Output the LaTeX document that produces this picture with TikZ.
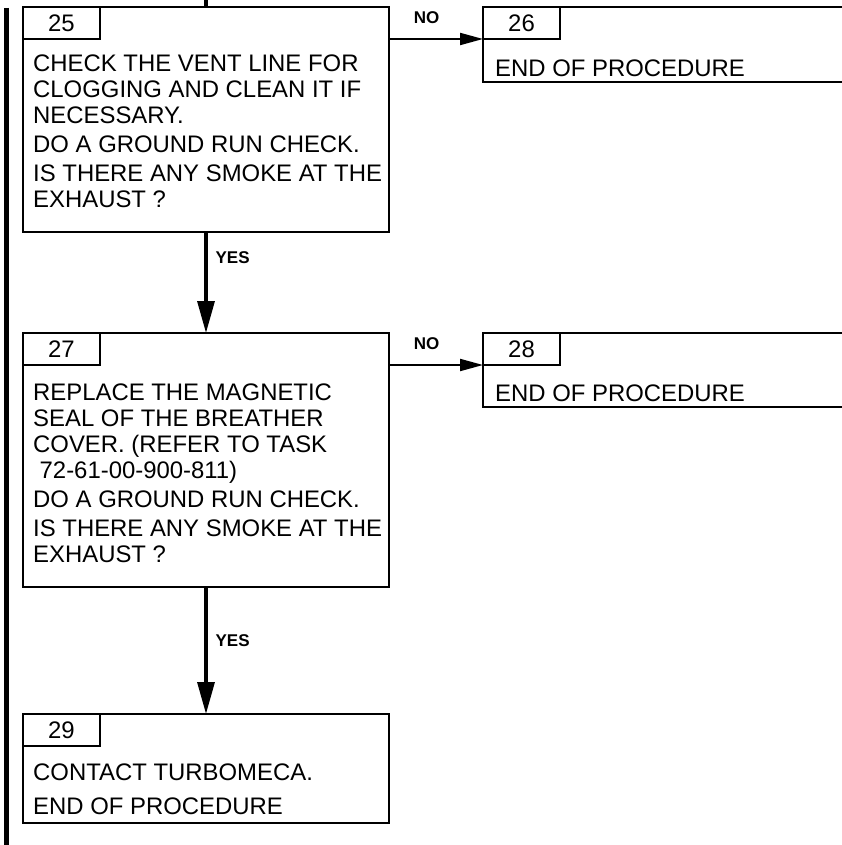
\documentclass[tikz,border=0pt]{standalone}
\usepackage{fontspec}
\setmainfont{Liberation Sans}
\usetikzlibrary{positioning, arrows.meta}

\newcommand{\stepfont}{\fontsize{23.9}{26}\selectfont}
\newcommand{\answerfont}{\fontsize{17}{20}\selectfont\bfseries}

\begin{document}
\begin{tikzpicture}[
		x=1pt, y=-1pt,
		stepbox/.style={draw, line width=2.2pt, inner sep=0pt, outer sep=0pt, anchor=north west},
		numtab/.style={draw, line width=1.8pt, inner sep=0pt, outer sep=0pt, anchor=north west, minimum width=77pt, minimum height=32pt, font=\stepfont},
		steptext/.style={align=left, inner sep=0pt, font=\stepfont},
		answer/.style={inner sep=0pt, font=\answerfont},
		yesarrow/.style={line width=3.3pt, -{Triangle[length=32pt, width=17pt]}},
		noarrow/.style={line width=2pt, -{Triangle[length=23pt, width=12pt]}}
		]
		% Page frame
		\useasboundingbox (0,0) rectangle (842,845);
		\clip (0,0) rectangle (842,845);
		% Change bar
		\draw[line width=4.5pt] (6.5,8) -- (6.5,845);
		% Step boxes with number tabs
		\foreach \n/\x/\y/\w/\h in {25/23/7/366/225, 26/483/7/400/75, 27/23/333/366/254, 28/483/333/400/74, 29/23/714/366/109} {
			\node[stepbox, minimum width=\w pt, minimum height=\h pt] (B\n) at (\x,\y) {};
			\node[numtab] (T\n) at (B\n.north west) {\n};
		}
		% Step texts
		\node[steptext, below right=15.5pt and 10pt of T25.south west] (S25) {CHECK THE VENT LINE FOR\\CLOGGING AND CLEAN IT IF\\NECESSARY.\\[3pt]DO A GROUND RUN CHECK.\\[3pt]IS THERE ANY SMOKE AT THE\\EXHAUST ?};
		\node[steptext, below right=20.6pt and 12pt of T26.south west] (S26) {END OF PROCEDURE};
		\node[steptext, below right=19pt and 10pt of T27.south west] (S27) {REPLACE THE MAGNETIC\\SEAL OF THE BREATHER\\COVER. (REFER TO TASK\\\hspace*{6.5pt}72-61-00-900-811)\\[2.5pt]DO A GROUND RUN CHECK.\\[3pt]IS THERE ANY SMOKE AT THE\\EXHAUST ?};
		\node[steptext, below right=19.6pt and 12pt of T28.south west] (S28) {END OF PROCEDURE};
		\node[steptext, below right=17.6pt and 10pt of T29.south west] (S29) {CONTACT TURBOMECA.\\[8pt]END OF PROCEDURE};
		% Connectors
		\coordinate (in25) at (206,0);
		\draw[line width=3.3pt] (in25) -- (B25.north);
		\draw[noarrow] (B25.east |- T26.south west) -- (T26.south west) node[answer, pos=0.4, above=14pt] (no25) {NO};
		\draw[yesarrow] (B25.south) -- (B27.north) node[answer, pos=0.25, right=8pt] (yes25) {YES};
		\draw[noarrow] (B27.east |- T28.south west) -- (T28.south west) node[answer, pos=0.4, above=14pt] (no27) {NO};
		\draw[yesarrow] (B27.south) -- (B29.north) node[answer, pos=0.42, right=8pt] (yes27) {YES};
	\end{tikzpicture}
\end{document}
